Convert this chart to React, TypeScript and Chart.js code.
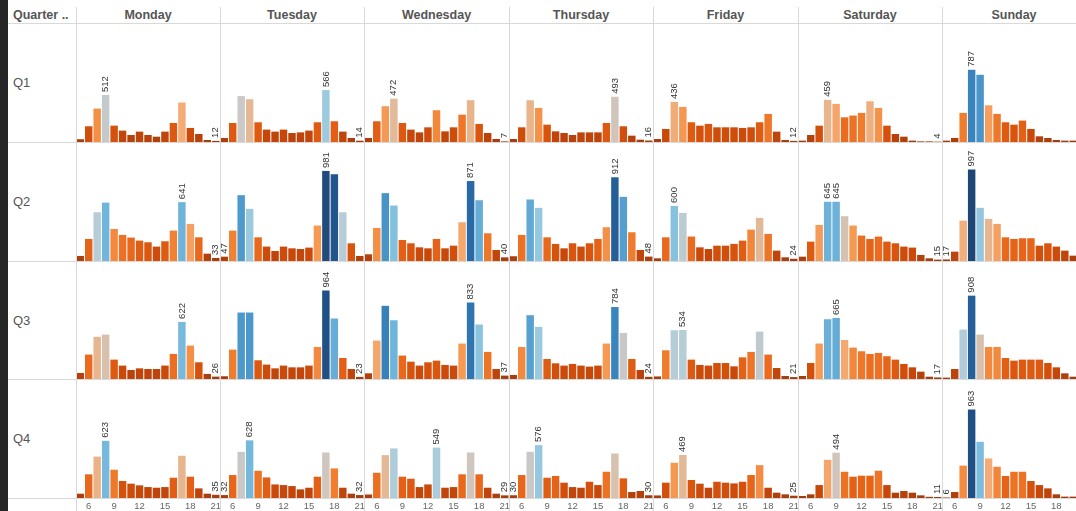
import React, { useEffect, useRef } from 'react';
import { Chart, registerables } from 'chart.js';

Chart.register(...registerables);

// ---------- data ----------
const HOURS = [5, 6, 7, 8, 9, 10, 11, 12, 13, 14, 15, 16, 17, 18, 19, 20, 21];
const TICK_HOURS = [6, 9, 12, 15, 18, 21];
const DAYS = ['Monday', 'Tuesday', 'Wednesday', 'Thursday', 'Friday', 'Saturday', 'Sunday'];
const QUARTERS = ['Q1', 'Q2', 'Q3', 'Q4'];

// one array per day (Mon..Sun), values for hours 5..21
const Q1: number[][] = [
  [30, 171, 364, 512, 178, 124, 76, 113, 76, 58, 113, 207, 430, 153, 87, 22, 12],
  [44, 207, 500, 466, 215, 135, 113, 135, 98, 105, 124, 215, 566, 226, 113, 44, 14],
  [44, 226, 390, 472, 207, 135, 105, 160, 346, 116, 160, 298, 455, 197, 98, 33, 7],
  [33, 160, 455, 371, 189, 116, 98, 76, 105, 105, 105, 207, 493, 171, 69, 25, 16],
  [33, 142, 436, 382, 215, 178, 197, 160, 160, 160, 153, 160, 215, 306, 113, 22, 12],
  [15, 76, 178, 459, 415, 269, 288, 317, 444, 371, 178, 87, 58, 15, 7, 7, 4],
  [15, 44, 317, 787, 732, 400, 306, 215, 189, 233, 142, 62, 44, 22, 15, 15, 9],
];
const Q2: number[][] = [
  [55, 240, 531, 636, 349, 284, 255, 222, 204, 157, 215, 331, 641, 404, 258, 80, 33],
  [47, 331, 717, 568, 258, 157, 109, 157, 138, 131, 146, 386, 981, 946, 531, 193, 55],
  [73, 360, 739, 604, 229, 193, 149, 138, 240, 138, 167, 422, 871, 662, 302, 120, 40],
  [52, 284, 670, 579, 258, 186, 138, 193, 157, 193, 240, 368, 912, 699, 313, 120, 48],
  [29, 258, 600, 524, 266, 149, 131, 167, 167, 186, 222, 342, 470, 295, 113, 40, 24],
  [47, 211, 393, 645, 645, 488, 386, 277, 240, 266, 211, 193, 157, 146, 66, 29, 15],
  [17, 102, 440, 997, 579, 459, 404, 258, 240, 248, 248, 167, 193, 157, 113, 58, 40],
];
const Q3: number[][] = [
  [66, 266, 459, 484, 211, 146, 98, 116, 109, 109, 146, 273, 622, 364, 182, 55, 26],
  [30, 320, 724, 724, 204, 157, 116, 146, 127, 127, 146, 349, 964, 659, 229, 109, 23],
  [62, 418, 797, 640, 255, 189, 146, 182, 200, 153, 146, 386, 833, 593, 295, 109, 37],
  [44, 349, 695, 568, 218, 171, 146, 164, 146, 135, 146, 386, 784, 502, 218, 98, 24],
  [28, 313, 531, 534, 211, 153, 146, 174, 174, 138, 236, 295, 516, 266, 120, 33, 21],
  [33, 174, 386, 651, 665, 425, 342, 302, 273, 284, 248, 211, 164, 127, 80, 25, 17],
  [15, 109, 539, 908, 484, 349, 349, 229, 200, 211, 211, 211, 174, 127, 62, 25, 12],
];
const Q4: number[][] = [
  [47, 258, 451, 623, 308, 185, 156, 138, 119, 112, 119, 221, 460, 232, 105, 47, 35],
  [32, 250, 503, 628, 297, 224, 148, 141, 130, 94, 112, 232, 496, 322, 112, 47, 32],
  [38, 275, 467, 540, 232, 210, 119, 148, 549, 112, 119, 258, 496, 258, 112, 47, 29],
  [30, 250, 503, 576, 221, 240, 167, 119, 112, 177, 141, 286, 485, 214, 65, 76, 30],
  [28, 167, 384, 469, 196, 156, 112, 177, 167, 159, 177, 250, 358, 112, 58, 40, 25],
  [22, 40, 141, 416, 494, 286, 232, 243, 243, 297, 141, 58, 76, 58, 29, 13, 11],
  [6, 65, 353, 963, 612, 431, 340, 240, 286, 286, 185, 141, 105, 40, 15, 15, 12],
];
const VALUES = [Q1, Q2, Q3, Q4];

// ---------- styling ----------
const COLOR_STOPS: [number, string][] = [
  [0, '#9c3a10'],
  [60, '#b0400c'],
  [130, '#c5460a'],
  [190, '#d8530c'],
  [250, '#e8661a'],
  [320, '#f07d2e'],
  [380, '#f5964f'],
  [430, '#f4ab74'],
  [470, '#e2b998'],
  [500, '#cbc8c5'],
  [535, '#b3cdd8'],
  [580, '#92c8e0'],
  [630, '#73b7dc'],
  [700, '#559fcf'],
  [780, '#3a86bf'],
  [860, '#2a6ca8'],
  [930, '#235a93'],
  [1000, '#1f4674'],
];
function hexToRgb(h: string) {
  return [parseInt(h.slice(1, 3), 16), parseInt(h.slice(3, 5), 16), parseInt(h.slice(5, 7), 16)];
}
function colorFor(v: number): string {
  if (v <= COLOR_STOPS[0][0]) return COLOR_STOPS[0][1];
  for (let i = 1; i < COLOR_STOPS.length; i++) {
    const [v1, c1] = COLOR_STOPS[i];
    if (v <= v1) {
      const [v0, c0] = COLOR_STOPS[i - 1];
      const t = (v - v0) / (v1 - v0);
      const a = hexToRgb(c0);
      const b = hexToRgb(c1);
      const m = a.map((x, k) => Math.round(x + (b[k] - x) * t));
      return `rgb(${m[0]},${m[1]},${m[2]})`;
    }
  }
  return COLOR_STOPS[COLOR_STOPS.length - 1][1];
}

const LINES_X = [76, 220, 364, 509, 653, 798, 942, 1086];
const ROW_TOP = [24, 143, 262, 380];
const ROW_H = [118, 118, 117, 118];
const PX_PER_UNIT = 0.0918;
const PAD = 7;
const AXIS_H = 13;
const LINE_COLOR = '#d9d9d9';
const FONT = 'Arial, "Liberation Sans", sans-serif';

const minMaxLabels = {
  id: 'minMaxLabels',
  afterDatasetsDraw(chart: any) {
    const data = chart.data.datasets[0].data as number[];
    const max = Math.max(...data);
    const min = Math.min(...data);
    const meta = chart.getDatasetMeta(0);
    const ctx = chart.ctx as CanvasRenderingContext2D;
    ctx.save();
    ctx.font = `9.5px ${FONT}`;
    ctx.fillStyle = '#333333';
    ctx.textAlign = 'left';
    ctx.textBaseline = 'middle';
    meta.data.forEach((el: any, i: number) => {
      const v = data[i];
      if (v !== max && v !== min) return;
      ctx.save();
      ctx.translate(el.x, el.y - 3);
      ctx.rotate(-Math.PI / 2);
      ctx.fillText(String(v), 0, 0);
      ctx.restore();
    });
    ctx.restore();
  },
};

function Panel({ values, row, col }: { values: number[]; row: number; col: number }) {
  const ref = useRef<HTMLCanvasElement>(null);
  const isBottom = row === QUARTERS.length - 1;
  const plotW = LINES_X[col + 1] - LINES_X[col];
  const plotH = ROW_H[row];
  const w = plotW + PAD * 2;
  const h = plotH + (isBottom ? AXIS_H : 0);
  const left = LINES_X[col] - PAD;
  const top = ROW_TOP[row];

  useEffect(() => {
    const xScale: any = {
      display: isBottom,
      grid: { display: false, drawTicks: false },
      border: { display: false },
      ticks: {
        autoSkip: false,
        maxRotation: 0,
        minRotation: 0,
        padding: 3,
        color: '#666666',
        font: { family: FONT, size: 9.5 },
        callback: (_v: any, idx: number) =>
          TICK_HOURS.includes(HOURS[idx]) ? String(HOURS[idx]) : '',
      },
    };
    if (isBottom) {
      xScale.afterFit = (scale: any) => {
        scale.height = AXIS_H;
      };
    }
    const chart = new Chart(ref.current as HTMLCanvasElement, {
      type: 'bar',
      data: {
        labels: HOURS.map(String),
        datasets: [
          {
            data: values,
            backgroundColor: values.map(colorFor),
            borderWidth: 0,
            barPercentage: 0.88,
            categoryPercentage: 1,
          },
        ],
      },
      options: {
        animation: false,
        responsive: false,
        maintainAspectRatio: false,
        layout: { padding: { left: PAD, right: PAD, top: 0, bottom: 0 } },
        plugins: { legend: { display: false }, tooltip: { enabled: false } },
        scales: {
          x: xScale,
          y: { display: false, min: 0, max: plotH / PX_PER_UNIT },
        },
      },
      plugins: [minMaxLabels],
    } as any);
    return () => chart.destroy();
  }, []);

  return (
    <canvas
      ref={ref}
      width={w}
      height={h}
      style={{ position: 'absolute', left, top, width: w, height: h, display: 'block', zIndex: 1 }}
    />
  );
}

export default function App() {
  const hLines = [23, 142, 261, 379, 498];
  return (
    <div
      style={{
        position: 'fixed',
        left: 0,
        top: 0,
        width: 1076,
        height: 511,
        overflow: 'hidden',
        background: '#ffffff',
        fontFamily: FONT,
      }}
    >
      <div style={{ position: 'absolute', left: 0, top: 0, width: 8, height: 511, background: '#262626', zIndex: 3 }} />
      {/* header */}
      <div
        style={{
          position: 'absolute',
          left: 13,
          top: 7,
          height: 16,
          lineHeight: '16px',
          fontSize: 12.5,
          fontWeight: 'bold',
          color: '#555555',
          whiteSpace: 'nowrap',
        }}
      >
        Quarter ..
      </div>
      {DAYS.map((d, i) => (
        <div
          key={d}
          style={{
            position: 'absolute',
            left: LINES_X[i],
            width: LINES_X[i + 1] - LINES_X[i],
            top: 7,
            height: 16,
            lineHeight: '16px',
            textAlign: 'center',
            fontSize: 12.5,
            fontWeight: 'bold',
            color: '#555555',
            whiteSpace: 'nowrap',
          }}
        >
          {d}
        </div>
      ))}
      {QUARTERS.map((q, r) => (
        <div
          key={q}
          style={{
            position: 'absolute',
            left: 13,
            top: ROW_TOP[r],
            height: ROW_H[r],
            lineHeight: ROW_H[r] + 'px',
            fontSize: 13,
            color: '#555555',
          }}
        >
          {q}
        </div>
      ))}
      {/* grid lines */}
      {LINES_X.slice(0, 7).map((x) => (
        <div
          key={'v' + x}
          style={{ position: 'absolute', left: x, top: 7, width: 1, height: 504, background: LINE_COLOR, zIndex: 2 }}
        />
      ))}
      {hLines.map((y) => (
        <div
          key={'h' + y}
          style={{ position: 'absolute', left: 8, top: y, width: 1068, height: 1, background: LINE_COLOR, zIndex: 0 }}
        />
      ))}
      {VALUES.map((quarter, r) =>
        quarter.map((vals, c) => <Panel key={r + '-' + c} values={vals} row={r} col={c} />)
      )}
    </div>
  );
}
